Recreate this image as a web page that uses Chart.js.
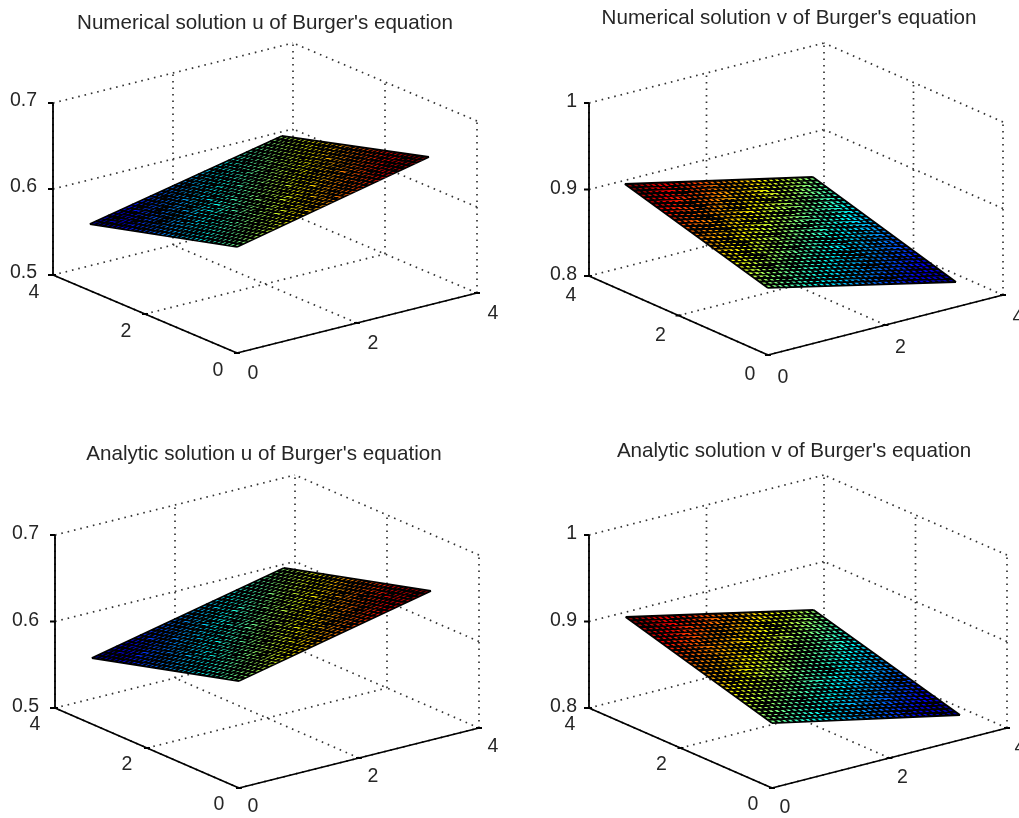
<!DOCTYPE html>
<html>
<head>
<meta charset="utf-8">
<title>Burger's equation</title>
<script src="https://cdn.jsdelivr.net/npm/chart.js@4"></script>
<style>
    html, body { margin: 0; padding: 0; background: #fff; overflow: hidden; width: 1019px; height: 818px; }
    canvas { position: absolute; }
</style>
</head>
<body>
<script>
const titles = [
    "Numerical solution u of Burger's equation",
    "Numerical solution v of Burger's equation",
    "Analytic solution u of Burger's equation",
    "Analytic solution v of Burger's equation"
];
const xyTicks = [0, 2, 4];
const xyTickLabels = ['0', '2', '4'];
const uTicks = [0.5, 0.6, 0.7];
const uTickLabels = ['0.5', '0.6', '0.7'];
const vTicks = [0.8, 0.9, 1];
const vTickLabels = ['0.8', '0.9', '1'];

// mesh nodes along both x and y
const nodes = [0, .1, .2, .3, .4, .5, .6, .7, .8, .9, 1, 1.1, 1.2, 1.3, 1.4, 1.5, 1.6, 1.7, 1.8, 1.9, 2, 2.1, 2.2, 2.3, 2.4, 2.5, 2.6, 2.7, 2.8, 2.9, 3, 3.1, 3.2];

// surface height read along the four edges of each surface
// front: y=0, back: y=3.2, left: x=0, right: x=3.2
const numUFront = [.6233,.6248,.6264,.6279,.6294,.6309,.6325,.6340,.6355,.6370,.6386,.6401,.6416,.6431,.6447,.6462,.6477,.6492,.6508,.6523,.6538,.6553,.6569,.6584,.6599,.6614,.6630,.6645,.6660,.6675,.6691,.6706,.6721];
const numUBack = [.5774,.5789,.5803,.5818,.5832,.5847,.5861,.5876,.5890,.5905,.5920,.5934,.5949,.5963,.5978,.5992,.6007,.6022,.6036,.6051,.6065,.6080,.6094,.6109,.6123,.6138,.6153,.6167,.6182,.6196,.6211,.6225,.6240];
const numULeft = [.6233,.6219,.6204,.6190,.6176,.6161,.6147,.6133,.6118,.6104,.6090,.6075,.6061,.6047,.6032,.6018,.6004,.5989,.5975,.5961,.5946,.5932,.5918,.5903,.5889,.5875,.5860,.5846,.5832,.5817,.5803,.5789,.5774];
const numURight = [.6721,.6706,.6691,.6676,.6661,.6646,.6631,.6616,.6601,.6586,.6571,.6556,.6541,.6526,.6511,.6496,.6481,.6465,.6450,.6435,.6420,.6405,.6390,.6375,.6360,.6345,.6330,.6315,.6300,.6285,.6270,.6255,.6240];

const numVFront = [.8775,.8760,.8745,.8729,.8714,.8699,.8684,.8669,.8653,.8638,.8623,.8608,.8593,.8577,.8562,.8547,.8532,.8517,.8502,.8486,.8471,.8456,.8441,.8426,.8410,.8395,.8380,.8365,.8350,.8334,.8319,.8304,.8289];
const numVBack = [.9246,.9231,.9216,.9202,.9187,.9172,.9157,.9142,.9128,.9113,.9098,.9083,.9068,.9053,.9039,.9024,.9009,.8994,.8979,.8965,.8950,.8935,.8920,.8905,.8891,.8876,.8861,.8846,.8831,.8816,.8802,.8787,.8772];
const numVLeft = [.8775,.8790,.8804,.8819,.8834,.8849,.8863,.8878,.8893,.8907,.8922,.8937,.8952,.8966,.8981,.8996,.9011,.9025,.9040,.9055,.9069,.9084,.9099,.9114,.9128,.9143,.9158,.9172,.9187,.9202,.9217,.9231,.9246];
const numVRight = [.8289,.8304,.8319,.8334,.8349,.8364,.8380,.8395,.8410,.8425,.8440,.8455,.8470,.8485,.8500,.8515,.8530,.8546,.8561,.8576,.8591,.8606,.8621,.8636,.8651,.8666,.8681,.8696,.8712,.8727,.8742,.8757,.8772];

const anaUFront = [.6237,.6252,.6267,.6283,.6298,.6313,.6328,.6343,.6359,.6374,.6389,.6404,.6419,.6434,.6450,.6465,.6480,.6495,.6510,.6526,.6541,.6556,.6571,.6586,.6602,.6617,.6632,.6647,.6662,.6677,.6693,.6708,.6723];
const anaUBack = [.5763,.5778,.5793,.5809,.5824,.5839,.5854,.5869,.5885,.5900,.5915,.5930,.5945,.5960,.5976,.5991,.6006,.6021,.6036,.6052,.6067,.6082,.6097,.6112,.6128,.6143,.6158,.6173,.6188,.6203,.6219,.6234,.6249];
const anaULeft = [.6237,.6222,.6207,.6193,.6178,.6163,.6148,.6133,.6119,.6104,.6089,.6074,.6059,.6044,.6030,.6015,.6000,.5985,.5970,.5956,.5941,.5926,.5911,.5896,.5882,.5867,.5852,.5837,.5822,.5807,.5793,.5778,.5763];
const anaURight = [.6723,.6708,.6693,.6679,.6664,.6649,.6634,.6619,.6605,.6590,.6575,.6560,.6545,.6530,.6516,.6501,.6486,.6471,.6456,.6442,.6427,.6412,.6397,.6382,.6368,.6353,.6338,.6323,.6308,.6293,.6279,.6264,.6249];

const anaVFront = [.8751,.8737,.8722,.8708,.8693,.8679,.8664,.8650,.8635,.8621,.8607,.8592,.8578,.8563,.8549,.8534,.8520,.8505,.8491,.8477,.8462,.8448,.8433,.8419,.8404,.8390,.8375,.8361,.8347,.8332,.8318,.8303,.8289];
const anaVBack = [.9237,.9222,.9207,.9193,.9178,.9163,.9148,.9133,.9119,.9104,.9089,.9074,.9059,.9044,.9030,.9015,.9000,.8985,.8970,.8956,.8941,.8926,.8911,.8896,.8882,.8867,.8852,.8837,.8822,.8807,.8793,.8778,.8763];
const anaVLeft = [.8751,.8766,.8781,.8797,.8812,.8827,.8842,.8857,.8873,.8888,.8903,.8918,.8933,.8948,.8964,.8979,.8994,.9009,.9024,.9040,.9055,.9070,.9085,.9100,.9116,.9131,.9146,.9161,.9176,.9191,.9207,.9222,.9237];
const anaVRight = [.8289,.8304,.8319,.8333,.8348,.8363,.8378,.8393,.8407,.8422,.8437,.8452,.8467,.8482,.8496,.8511,.8526,.8541,.8556,.8570,.8585,.8600,.8615,.8630,.8644,.8659,.8674,.8689,.8704,.8719,.8733,.8748,.8763];

const jetStops = [[0, '#00008f'], [0.11, '#0000ff'], [0.365, '#00ffff'], [0.62, '#ffff00'], [0.87, '#ff0000'], [1, '#800000']];

const TEXT_COLOR = '#262626';
const FONT = '"Liberation Sans", Arial, sans-serif';
const CANVAS_W = 530;
const TITLE_H = 40;
const TITLE_SIZE = 20.6;
const TICK_SIZE = 19.5;

// view of each axes box, in page pixels
const panels = [
    { title: titles[0], left: 0, top: 0, h: 400, titlePad: 10.7, zTicks: uTicks, zLabels: uTickLabels,
      front: numUFront, back: numUBack, leftEdge: numULeft, right: numURight,
      origin: [237, 353], xVec: [240, -60], yVec: [-184, -78], zHeight: 172,
      zLabelDx: -16, zLabelDy: -2, yLabel: [-19, 18], xLabel: [16, 21] },
    { title: titles[1], left: 524, top: 0, h: 400, titlePad: 6.2, zTicks: vTicks, zLabels: vTickLabels,
      front: numVFront, back: numVBack, leftEdge: numVLeft, right: numVRight,
      origin: [768, 355], xVec: [235, -60], yVec: [-179, -79], zHeight: 173,
      zLabelDx: -12, zLabelDy: -1, yLabel: [-18, 20], xLabel: [15, 23] },
    { title: titles[2], left: -1, top: 430, h: 388, titlePad: 11.7, zTicks: uTicks, zLabels: uTickLabels,
      front: anaUFront, back: anaUBack, leftEdge: anaULeft, right: anaURight,
      origin: [239, 788], xVec: [240, -60], yVec: [-184, -80], zHeight: 173,
      zLabelDx: -16, zLabelDy: -1, yLabel: [-20, 17], xLabel: [14, 19] },
    { title: titles[3], left: 529, top: 430, h: 388, titlePad: 8.7, zTicks: vTicks, zLabels: vTickLabels,
      front: anaVFront, back: anaVBack, leftEdge: anaVLeft, right: anaVRight,
      origin: [772, 788], xVec: [235, -60], yVec: [-183, -80], zHeight: 173,
      zLabelDx: -12, zLabelDy: -1, yLabel: [-19, 17], xLabel: [13, 20] }
];

function project(p, x, y, z) {
    const zMin = p.zTicks[0];
    const zMax = p.zTicks[p.zTicks.length - 1];
    return {
        x: p.origin[0] + x / 4 * p.xVec[0] + y / 4 * p.yVec[0],
        y: p.origin[1] + x / 4 * p.xVec[1] + y / 4 * p.yVec[1] - (z - zMin) / (zMax - zMin) * p.zHeight
    };
}

// line segments in one dataset, broken by empty points
function segments(list) {
    const out = [];
    list.forEach(function (s) {
        out.push(s[0], s[1], { x: NaN, y: NaN });
    });
    return out;
}

function gridSegments(p) {
    const zMin = p.zTicks[0];
    const zMax = p.zTicks[p.zTicks.length - 1];
    const list = [];
    xyTicks.forEach(function (t) {
        list.push([project(p, t, 0, zMin), project(p, t, 4, zMin)]);
        list.push([project(p, 0, t, zMin), project(p, 4, t, zMin)]);
        list.push([project(p, t, 4, zMin), project(p, t, 4, zMax)]);
        list.push([project(p, 4, t, zMin), project(p, 4, t, zMax)]);
    });
    p.zTicks.forEach(function (z) {
        list.push([project(p, 0, 4, z), project(p, 4, 4, z)]);
        list.push([project(p, 4, 0, z), project(p, 4, 4, z)]);
    });
    return segments(list);
}

function axisSegments(p) {
    const zMin = p.zTicks[0];
    const zMax = p.zTicks[p.zTicks.length - 1];
    const list = [
        [project(p, 0, 0, zMin), project(p, 4, 0, zMin)],
        [project(p, 0, 0, zMin), project(p, 0, 4, zMin)],
        [project(p, 0, 4, zMin), project(p, 0, 4, zMax)]
    ];
    p.zTicks.forEach(function (z) {
        const a = project(p, 0, 4, z);
        list.push([a, { x: a.x - 5, y: a.y }]);
    });
    xyTicks.forEach(function (t) {
        const a = project(p, t, 0, zMin);
        const b = project(p, 0, t, zMin);
        list.push([{ x: a.x - 3, y: a.y }, { x: a.x + 3, y: a.y }]);
        list.push([{ x: b.x - 3, y: b.y }, { x: b.x + 3, y: b.y }]);
    });
    return segments(list);
}

function meshSegments(p) {
    const last = nodes.length - 1;
    const list = [];
    nodes.forEach(function (n, i) {
        list.push([project(p, 0, n, p.leftEdge[i]), project(p, nodes[last], n, p.right[i])]);
        list.push([project(p, n, 0, p.front[i]), project(p, n, nodes[last], p.back[i])]);
    });
    return segments(list);
}

function outline(p) {
    const last = nodes.length - 1;
    const end = nodes[last];
    return [
        project(p, 0, 0, p.front[0]),
        project(p, end, 0, p.front[last]),
        project(p, end, end, p.back[last]),
        project(p, 0, end, p.back[0]),
        project(p, 0, 0, p.front[0])
    ];
}

// jet gradient running across the lines of equal height
function surfaceGradient(context, p) {
    const chart = context.chart;
    if (!chart.chartArea) {
        return '#000';
    }
    const last = nodes.length - 1;
    const end = nodes[last];
    const corners = [
        { x: 0, y: 0, z: p.front[0] },
        { x: end, y: 0, z: p.front[last] },
        { x: end, y: end, z: p.back[last] },
        { x: 0, y: end, z: p.back[0] }
    ];
    let lo = corners[0];
    let hi = corners[0];
    corners.forEach(function (c) {
        if (c.z < lo.z) lo = c;
        if (c.z > hi.z) hi = c;
    });
    const slopeX = (p.front[last] - p.front[0]) / end;
    const slopeY = (p.back[0] - p.front[0]) / end;
    const pixel = function (pt) {
        return { x: chart.scales.x.getPixelForValue(pt.x), y: chart.scales.y.getPixelForValue(pt.y) };
    };
    const a = pixel(project(p, lo.x, lo.y, lo.z));
    const b = pixel(project(p, hi.x, hi.y, hi.z));
    const isoEnd = pixel(project(p, lo.x + slopeY, lo.y - slopeX, lo.z));
    const ix = isoEnd.x - a.x;
    const iy = isoEnd.y - a.y;
    const len = Math.sqrt(ix * ix + iy * iy);
    const nx = -iy / len;
    const ny = ix / len;
    const d = (b.x - a.x) * nx + (b.y - a.y) * ny;
    const gradient = chart.ctx.createLinearGradient(a.x, a.y, a.x + nx * d, a.y + ny * d);
    jetStops.forEach(function (s) {
        gradient.addColorStop(s[0], s[1]);
    });
    return gradient;
}

const tickLabelPlugin = {
    id: 'tickLabelPlugin',
    afterDraw(chart) {
        const p = chart.options.plugins.tickLabelPlugin.panel;
        const ctx = chart.ctx;
        const sx = chart.scales.x;
        const sy = chart.scales.y;
        const zMin = p.zTicks[0];
        ctx.save();
        ctx.fillStyle = TEXT_COLOR;
        ctx.font = TICK_SIZE + 'px ' + FONT;
        ctx.textBaseline = 'middle';
        ctx.textAlign = 'right';
        p.zTicks.forEach(function (z, i) {
            const a = project(p, 0, 4, z);
            ctx.fillText(p.zLabels[i], sx.getPixelForValue(a.x + p.zLabelDx), sy.getPixelForValue(a.y + p.zLabelDy));
        });
        ctx.textAlign = 'center';
        xyTicks.forEach(function (t, i) {
            const a = project(p, 0, t, zMin);
            const b = project(p, t, 0, zMin);
            ctx.fillText(xyTickLabels[i], sx.getPixelForValue(a.x + p.yLabel[0]), sy.getPixelForValue(a.y + p.yLabel[1]));
            ctx.fillText(xyTickLabels[i], sx.getPixelForValue(b.x + p.xLabel[0]), sy.getPixelForValue(b.y + p.xLabel[1]));
        });
        ctx.restore();
    }
};

panels.forEach(function (p) {
    const canvas = document.createElement('canvas');
    canvas.width = CANVAS_W;
    canvas.height = p.h;
    canvas.style.left = p.left + 'px';
    canvas.style.top = p.top + 'px';
    document.body.appendChild(canvas);

    new Chart(canvas.getContext('2d'), {
        type: 'scatter',
        plugins: [tickLabelPlugin],
        data: {
            datasets: [
                {
                    data: axisSegments(p),
                    showLine: true, pointRadius: 0, borderColor: '#000', borderWidth: 1.8, order: 1, clip: false
                },
                {
                    data: meshSegments(p),
                    showLine: true, pointRadius: 0, borderColor: '#000', borderWidth: 1.8, order: 2, clip: false
                },
                {
                    data: outline(p),
                    showLine: true, pointRadius: 0, borderWidth: 0, fill: 'shape', order: 3, clip: false,
                    backgroundColor: function (context) { return surfaceGradient(context, p); }
                },
                {
                    data: gridSegments(p),
                    showLine: true, pointRadius: 0, borderColor: '#333', borderWidth: 1.7,
                    borderDash: [1.6, 4.9], order: 4, clip: false
                }
            ]
        },
        options: {
            responsive: false,
            animation: false,
            events: [],
            layout: { padding: 0 },
            scales: {
                x: { type: 'linear', display: false, min: p.left, max: p.left + CANVAS_W },
                y: { type: 'linear', display: false, reverse: true, min: p.top + TITLE_H, max: p.top + p.h }
            },
            plugins: {
                legend: { display: false },
                tooltip: { enabled: false },
                tickLabelPlugin: { panel: p },
                title: {
                    display: true,
                    text: p.title,
                    color: TEXT_COLOR,
                    font: { family: FONT, size: TITLE_SIZE, weight: 'normal', lineHeight: 1.2 },
                    padding: { top: p.titlePad, bottom: TITLE_H - TITLE_SIZE * 1.2 - p.titlePad }
                }
            }
        }
    });
});
</script>
</body>
</html>
